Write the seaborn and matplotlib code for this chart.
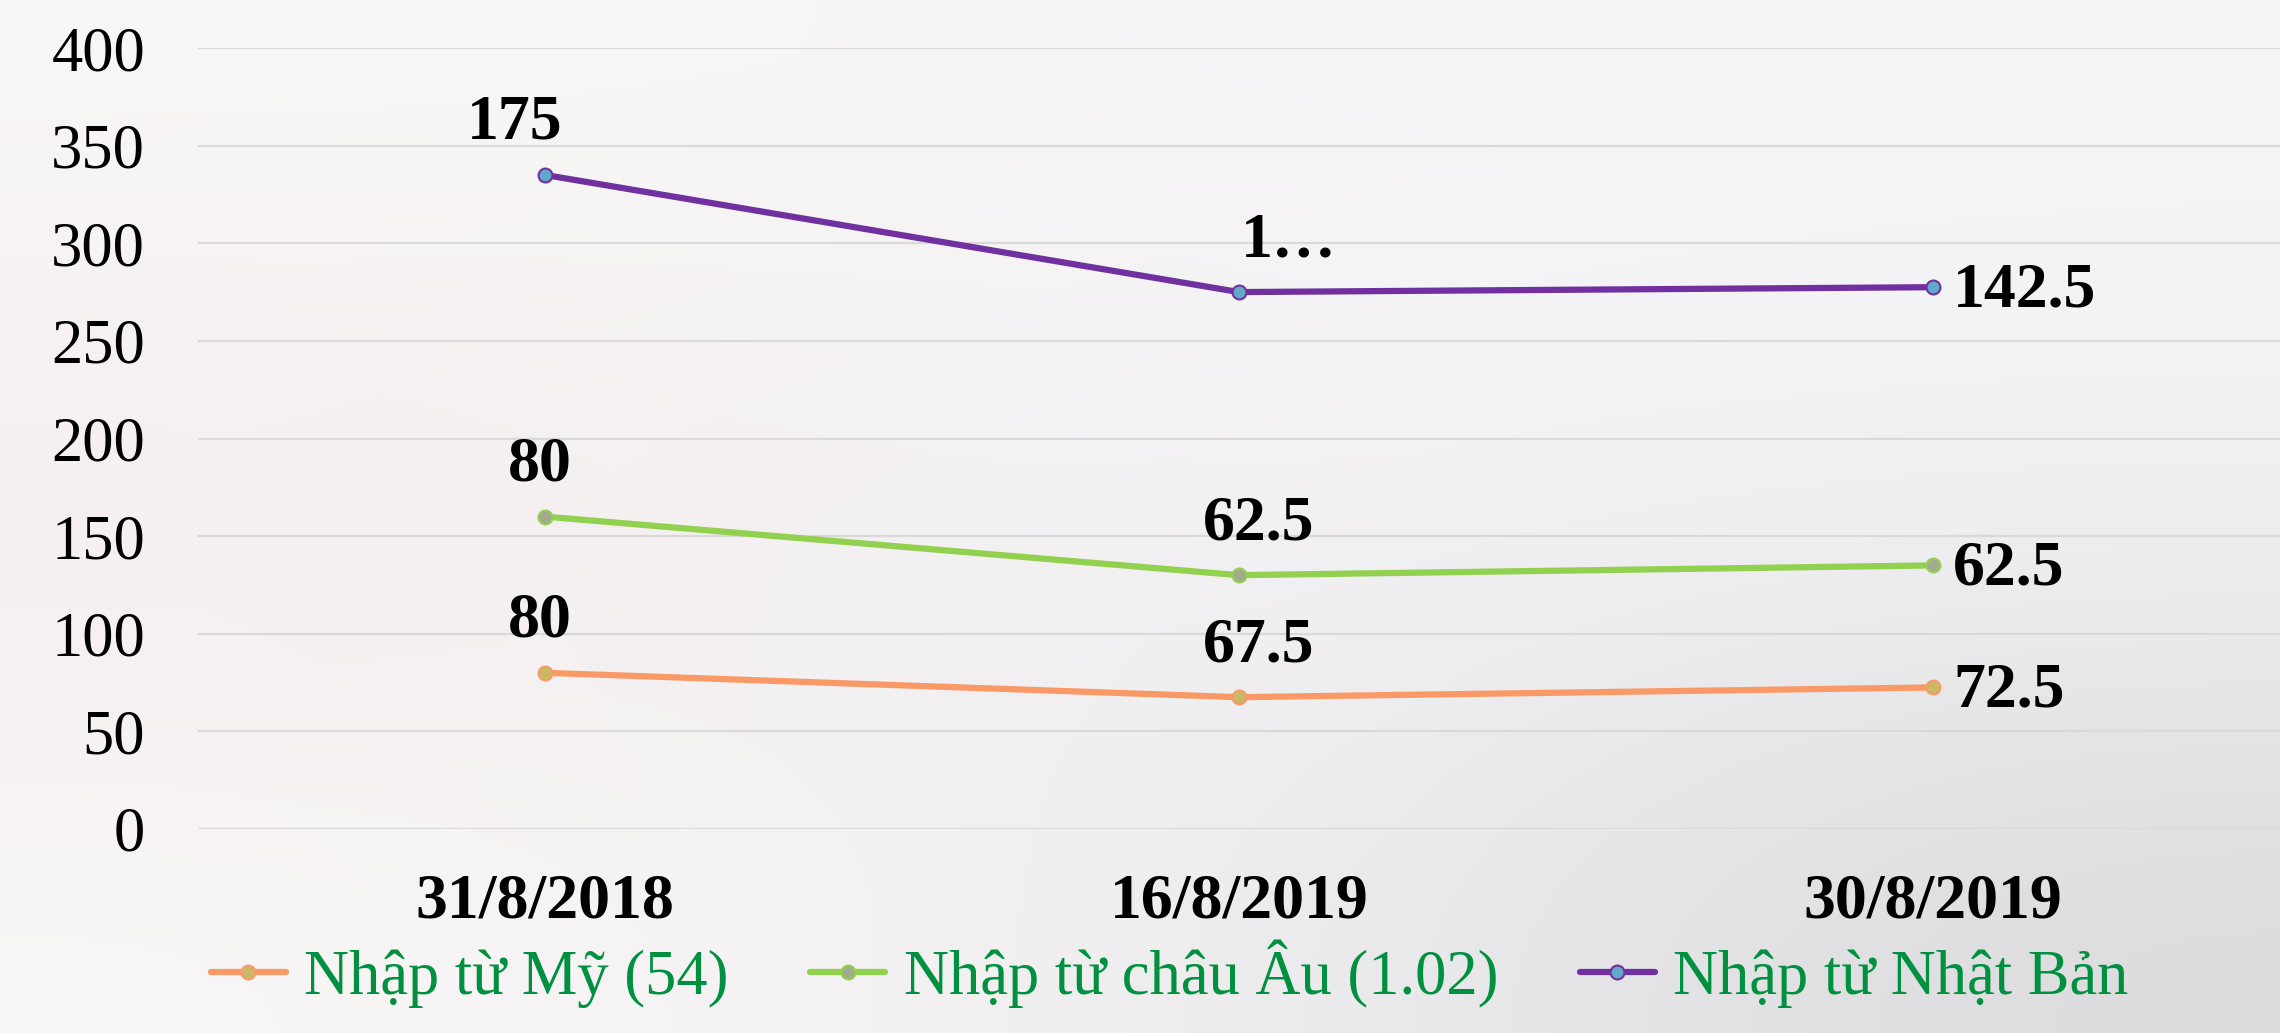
import numpy as np
import pandas as pd
import matplotlib
matplotlib.use('Agg')
import matplotlib.pyplot as plt
import seaborn as sns

# dữ liệu (biểu đồ đường xếp chồng)
ngay = ['31/8/2018', '16/8/2019', '30/8/2019']
nhap_my = [80, 67.5, 72.5]
nhap_chau_au = [80, 62.5, 62.5]
nhap_nhat_ban = [175, 145, 142.5]
ten_chuoi = ['Nhập từ Mỹ (54)', 'Nhập từ châu Âu (1.02)', 'Nhập từ Nhật Bản']
nhan_nhat_ban = ['175', '1…', '142.5']
y_ticks = [0, 50, 100, 150, 200, 250, 300, 350, 400]

mau_duong = ['#F99A66', '#92D050', '#7030A0']
mau_diem = ['#C9B865', '#A2AC8C', '#62A9C9']

sns.set_style('white')
plt.rcParams['font.family'] = ['Liberation Serif', 'DejaVu Serif']
plt.rcParams['text.color'] = 'black'
plt.rcParams['xtick.color'] = 'black'
plt.rcParams['ytick.color'] = 'black'

gia_tri = [nhap_my, nhap_chau_au, nhap_nhat_ban]
chong = np.cumsum(np.array(gia_tri), axis=0)
rows = []
for i, ten in enumerate(ten_chuoi):
    for j, d in enumerate(ngay):
        rows.append({'ngay': d, 'vi_tri': j, 'gia_tri': gia_tri[i][j], 'chong': chong[i][j], 'chuoi': ten})
df = pd.DataFrame(rows)

fig = plt.figure(figsize=(22.8, 10.33), dpi=100)

# nền chuyển màu nhẹ
bg = fig.add_axes([0, 0, 1, 1], zorder=-5)
nen = np.array([
    [[0.975, 0.965, 0.965], [0.965, 0.960, 0.965], [0.960, 0.958, 0.968]],
    [[0.960, 0.925, 0.925], [0.950, 0.945, 0.955], [0.945, 0.945, 0.955]],
    [[0.975, 0.965, 0.965], [0.945, 0.940, 0.945], [0.860, 0.860, 0.870]],
])
bg.imshow(nen, aspect='auto', interpolation='bicubic', extent=[0, 1, 0, 1])
bg.axis('off')

ax = fig.add_axes([0.0868, 0.1975, 0.9132, 0.756])
ax.set_facecolor('none')

for i, ten in enumerate(ten_chuoi):
    sub = df[df['chuoi'] == ten]
    sns.lineplot(data=sub, x='vi_tri', y='chong', ax=ax, color=mau_duong[i], lw=4.5,
                 marker='o', markersize=10, markerfacecolor=mau_diem[i],
                 markeredgecolor=mau_duong[i], markeredgewidth=1.5, label=ten,
                 sort=False, zorder=3)

# nhãn dữ liệu
for i, ten in enumerate(ten_chuoi):
    sub = df[df['chuoi'] == ten].reset_index(drop=True)
    for j in range(len(sub)):
        if i == 2:
            txt = nhan_nhat_ban[j]
        else:
            v = sub.loc[j, 'gia_tri']
            txt = f'{v:g}'
        x, y = sub.loc[j, 'vi_tri'], sub.loc[j, 'chong']
        if j == 2:
            ax.annotate(txt, (x, y), xytext=(20, -4), textcoords='offset pixels',
                        ha='left', va='center', fontsize=46, fontweight='bold')
        else:
            dx = -30 if (i == 2 and j == 0) else (50 if (i == 2 and j == 1) else (20 if j == 1 else -5))
            ax.annotate(txt, (x, y), xytext=(dx, 22), textcoords='offset pixels',
                        ha='center', va='bottom', fontsize=46, fontweight='bold')

ax.set_xlim(-0.5, 2.5)
ax.set_ylim(0, 400)
ax.set_xticks(range(len(ngay)))
ax.set_xticklabels(ngay, fontsize=46, fontweight='bold')
ax.set_yticks(y_ticks)
ax.set_yticklabels([str(t) for t in y_ticks], fontsize=45)
ax.tick_params(axis='x', length=0, pad=32)
ax.tick_params(axis='y', length=0, pad=38)
ax.set_xlabel('')
ax.set_ylabel('')
ax.grid(axis='y', color='#D9D9D9', lw=1.6)
ax.set_axisbelow(True)
sns.despine(ax=ax, left=True, bottom=True)

handles, labels = ax.get_legend_handles_labels()
ax.get_legend().remove()
leg = fig.legend(handles, labels, loc='lower center', bbox_to_anchor=(0.513, -0.012), ncol=3,
                 frameon=False, fontsize=45, handlelength=1.2, handletextpad=0.3,
                 columnspacing=1.3, borderpad=0.1)
for t in leg.get_texts():
    t.set_color('#00903F')

fig.savefig('out.png', dpi=100)
